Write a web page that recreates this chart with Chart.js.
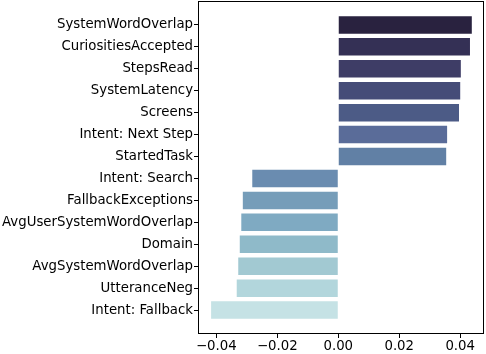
<!DOCTYPE html>
<html>
<head>
<meta charset="utf-8">
<script src="https://cdn.jsdelivr.net/npm/chart.js@4/dist/chart.umd.min.js"></script>
<style>
  html, body { margin: 0; padding: 0; background: #fff; }
  #wrap { width: 486px; height: 354px; }
</style>
</head>
<body>
<div id="wrap"><canvas id="chart"></canvas></div>
<script>
var categories = ['SystemWordOverlap', 'CuriositiesAccepted', 'StepsRead', 'SystemLatency', 'Screens',
    'Intent: Next Step', 'StartedTask', 'Intent: Search', 'FallbackExceptions', 'AvgUserSystemWordOverlap',
    'Domain', 'AvgSystemWordOverlap', 'UtteranceNeg', 'Intent: Fallback'];
var values = [0.0438, 0.0432, 0.0402, 0.0400, 0.0396, 0.0357, 0.0354,
    -0.0282, -0.0313, -0.0318, -0.0323, -0.0328, -0.0333, -0.0417];
var barColors = ['#29223f', '#343055', '#3e3d66', '#454c78', '#4c5b86', '#5a6c99', '#6180a5',
    '#6a8cb0', '#769db9', '#7faac2', '#8fbac9', '#a2c9d2', '#b2d6dc', '#c5e2e5'];
var xTicks = [-0.04, -0.02, 0, 0.02, 0.04];

var font = { family: 'DejaVu Sans', size: 13.3 };

// caja completa alrededor del area de datos, como matplotlib
var framePlugin = {
    id: 'frame',
    afterDraw: function (chart) {
        var a = chart.chartArea, c = chart.ctx;
        c.save();
        c.strokeStyle = '#000';
        c.lineWidth = 1;
        c.strokeRect(Math.round(a.left) + 0.5, Math.round(a.top) + 0.5,
            Math.round(a.right - a.left) - 1, Math.round(a.bottom - a.top) - 1);
        c.restore();
    }
};

new Chart(document.getElementById('chart').getContext('2d'), {
    type: 'bar',
    data: {
        datasets: [{
            data: values.map(function (v, i) { return { x: v, y: i }; }),
            backgroundColor: barColors,
            borderWidth: 0,
            barPercentage: 0.8,
            categoryPercentage: 1.0
        }]
    },
    options: {
        indexAxis: 'y',
        responsive: true,
        maintainAspectRatio: false,
        animation: false,
        layout: { padding: { top: 1, right: 2, left: 0, bottom: 0 } },
        plugins: { legend: { display: false }, tooltip: { enabled: false } },
        scales: {
            x: {
                type: 'linear',
                min: -0.046,
                max: 0.0478,
                afterBuildTicks: function (s) { s.ticks = xTicks.map(function (v) { return { value: v }; }); },
                afterFit: function (s) { s.height = 20; s.paddingLeft = 0; s.paddingRight = 0; },
                grid: { drawOnChartArea: false, drawTicks: true, tickLength: 4, color: '#000' },
                border: { display: false },
                ticks: {
                    color: '#000', font: font, padding: 1, maxRotation: 0,
                    callback: function (v) { return v.toFixed(2).replace('-', '\u2212'); }
                }
            },
            y: {
                type: 'linear',
                reverse: true,
                offset: false,
                min: -1.09,
                max: categories.length - 1 + 1.09,
                afterBuildTicks: function (s) { s.ticks = categories.map(function (c, i) { return { value: i }; }); },
                afterFit: function (s) { s.width = 198; s.paddingTop = 0; s.paddingBottom = 0; },
                grid: { offset: false, drawOnChartArea: false, drawTicks: true, tickLength: 4, color: '#000' },
                border: { display: false },
                ticks: {
                    color: '#000', font: font, padding: 1, autoSkip: false,
                    callback: function (v) { return categories[v]; }
                }
            }
        }
    },
    plugins: [framePlugin]
});
</script>
</body>
</html>
